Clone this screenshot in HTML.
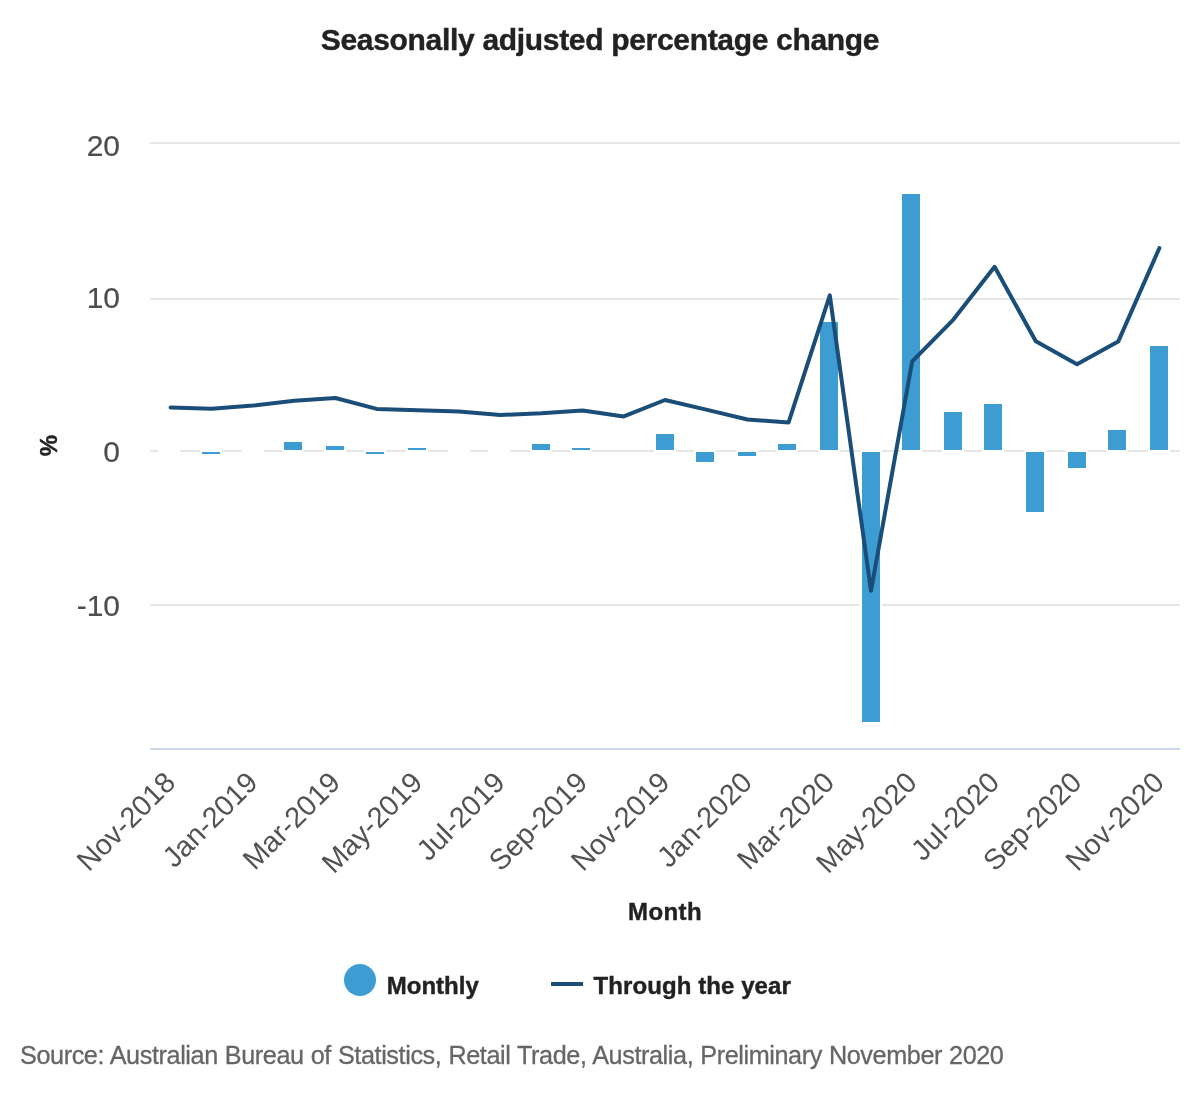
<!DOCTYPE html>
<html lang="en"><head><meta charset="utf-8"><title>Seasonally adjusted percentage change</title>
<style>html,body{margin:0;padding:0;background:#fff}body{width:1200px;height:1100px;overflow:hidden}svg{display:block}text{font-family:"Liberation Sans",Arial,Helvetica,sans-serif}</style></head><body>
<svg width="1200" height="1100" viewBox="0 0 1200 1100">
<rect width="1200" height="1100" fill="#ffffff"/>
<rect x="150" y="142" width="1030" height="2" fill="#e6e6e6"/>
<rect x="150" y="298" width="1030" height="2" fill="#e6e6e6"/>
<rect x="150" y="450" width="1030" height="2" fill="#e6e6e6"/>
<rect x="150" y="604" width="1030" height="2" fill="#e6e6e6"/>
<rect x="158" y="450" width="22" height="2" fill="#fff"/>
<rect x="200" y="450" width="22" height="6" fill="#fff"/>
<rect x="202" y="452" width="18" height="2" fill="#3d9dd3"/>
<rect x="242" y="450" width="22" height="2" fill="#fff"/>
<rect x="282" y="440" width="22" height="12" fill="#fff"/>
<rect x="284" y="442" width="18" height="8" fill="#3d9dd3"/>
<rect x="324" y="444" width="22" height="8" fill="#fff"/>
<rect x="326" y="446" width="18" height="4" fill="#3d9dd3"/>
<rect x="364" y="450" width="22" height="6" fill="#fff"/>
<rect x="366" y="452" width="18" height="2" fill="#3d9dd3"/>
<rect x="406" y="446" width="22" height="6" fill="#fff"/>
<rect x="408" y="448" width="18" height="2" fill="#3d9dd3"/>
<rect x="448" y="450" width="22" height="2" fill="#fff"/>
<rect x="488" y="450" width="22" height="2" fill="#fff"/>
<rect x="530" y="442" width="22" height="10" fill="#fff"/>
<rect x="532" y="444" width="18" height="6" fill="#3d9dd3"/>
<rect x="570" y="446" width="22" height="6" fill="#fff"/>
<rect x="572" y="448" width="18" height="2" fill="#3d9dd3"/>
<rect x="654" y="432" width="22" height="20" fill="#fff"/>
<rect x="656" y="434" width="18" height="16" fill="#3d9dd3"/>
<rect x="694" y="450" width="22" height="14" fill="#fff"/>
<rect x="696" y="452" width="18" height="10" fill="#3d9dd3"/>
<rect x="736" y="450" width="22" height="8" fill="#fff"/>
<rect x="738" y="452" width="18" height="4" fill="#3d9dd3"/>
<rect x="776" y="442" width="22" height="10" fill="#fff"/>
<rect x="778" y="444" width="18" height="6" fill="#3d9dd3"/>
<rect x="818" y="320" width="22" height="132" fill="#fff"/>
<rect x="820" y="322" width="18" height="128" fill="#3d9dd3"/>
<rect x="860" y="450" width="22" height="274" fill="#fff"/>
<rect x="862" y="452" width="18" height="270" fill="#3d9dd3"/>
<rect x="900" y="192" width="22" height="260" fill="#fff"/>
<rect x="902" y="194" width="18" height="256" fill="#3d9dd3"/>
<rect x="942" y="410" width="22" height="42" fill="#fff"/>
<rect x="944" y="412" width="18" height="38" fill="#3d9dd3"/>
<rect x="982" y="402" width="22" height="50" fill="#fff"/>
<rect x="984" y="404" width="18" height="46" fill="#3d9dd3"/>
<rect x="1024" y="450" width="22" height="64" fill="#fff"/>
<rect x="1026" y="452" width="18" height="60" fill="#3d9dd3"/>
<rect x="1066" y="450" width="22" height="20" fill="#fff"/>
<rect x="1068" y="452" width="18" height="16" fill="#3d9dd3"/>
<rect x="1106" y="428" width="22" height="24" fill="#fff"/>
<rect x="1108" y="430" width="18" height="20" fill="#3d9dd3"/>
<rect x="1148" y="344" width="22" height="108" fill="#fff"/>
<rect x="1150" y="346" width="18" height="104" fill="#3d9dd3"/>
<rect x="150" y="748" width="1030" height="2" fill="#ccd6eb"/>
<polyline points="170.6,407.5 211.8,408.8 253.0,405.6 294.2,400.8 335.4,398.0 376.6,408.9 417.8,410.2 459.0,411.6 500.2,415.0 541.4,413.2 582.6,410.4 623.8,416.4 665.0,400.0 706.2,409.6 747.4,419.5 788.6,422.4 829.8,295.4 871.0,590.8 912.2,361.3 953.4,319.6 994.6,266.8 1035.8,341.3 1077.0,364.2 1118.2,341.6 1159.4,248.0" fill="none" stroke="#1a4e79" stroke-width="4" stroke-linejoin="round" stroke-linecap="round"/>
<text x="600" y="49.5" text-anchor="middle" font-size="30" letter-spacing="-0.32" font-weight="bold" fill="#222222" stroke="#222222" stroke-width="0.4">Seasonally adjusted percentage change</text>
<text x="120" y="156" text-anchor="end" font-size="30" fill="#4d4d4d" stroke="#4d4d4d" stroke-width="0.2">20</text>
<text x="120" y="308.2" text-anchor="end" font-size="30" fill="#4d4d4d" stroke="#4d4d4d" stroke-width="0.2">10</text>
<text x="120" y="462" text-anchor="end" font-size="30" fill="#4d4d4d" stroke="#4d4d4d" stroke-width="0.2">0</text>
<text x="120" y="616" text-anchor="end" font-size="30" fill="#4d4d4d" stroke="#4d4d4d" stroke-width="0.2">-10</text>
<text transform="translate(57,445.6) rotate(-90)" text-anchor="middle" font-size="24" font-weight="bold" fill="#222222" stroke="#222222" stroke-width="0.4">%</text>
<text transform="translate(177.0,784.2) rotate(-45)" text-anchor="end" font-size="28.8" fill="#525252">Nov-2018</text>
<text transform="translate(259.4,784.2) rotate(-45)" text-anchor="end" font-size="28.8" fill="#525252">Jan-2019</text>
<text transform="translate(341.8,784.2) rotate(-45)" text-anchor="end" font-size="28.8" fill="#525252">Mar-2019</text>
<text transform="translate(424.2,784.2) rotate(-45)" text-anchor="end" font-size="28.8" fill="#525252">May-2019</text>
<text transform="translate(506.6,784.2) rotate(-45)" text-anchor="end" font-size="28.8" fill="#525252">Jul-2019</text>
<text transform="translate(589.0,784.2) rotate(-45)" text-anchor="end" font-size="28.8" fill="#525252">Sep-2019</text>
<text transform="translate(671.4,784.2) rotate(-45)" text-anchor="end" font-size="28.8" fill="#525252">Nov-2019</text>
<text transform="translate(753.8,784.2) rotate(-45)" text-anchor="end" font-size="28.8" fill="#525252">Jan-2020</text>
<text transform="translate(836.2,784.2) rotate(-45)" text-anchor="end" font-size="28.8" fill="#525252">Mar-2020</text>
<text transform="translate(918.6,784.2) rotate(-45)" text-anchor="end" font-size="28.8" fill="#525252">May-2020</text>
<text transform="translate(1001.0,784.2) rotate(-45)" text-anchor="end" font-size="28.8" fill="#525252">Jul-2020</text>
<text transform="translate(1083.4,784.2) rotate(-45)" text-anchor="end" font-size="28.8" fill="#525252">Sep-2020</text>
<text transform="translate(1165.8,784.2) rotate(-45)" text-anchor="end" font-size="28.8" fill="#525252">Nov-2020</text>
<text x="665" y="919.7" text-anchor="middle" font-size="24" letter-spacing="0.4" font-weight="bold" fill="#222222" stroke="#222222" stroke-width="0.4">Month</text>
<circle cx="360" cy="980" r="16" fill="#3d9dd3"/>
<text x="386.8" y="994.1" font-size="24" font-weight="bold" fill="#222222" stroke="#222222" stroke-width="0.4">Monthly</text>
<rect x="551" y="982" width="32" height="4" fill="#1a4e79"/>
<text x="593.6" y="994.1" font-size="24" letter-spacing="0.08" font-weight="bold" fill="#222222" stroke="#222222" stroke-width="0.4">Through the year</text>
<text x="20" y="1063.8" font-size="25.2" letter-spacing="-0.39" word-spacing="0.4" fill="#666666" stroke="#666666" stroke-width="0.3">Source: Australian Bureau of Statistics, Retail Trade, Australia, Preliminary November 2020</text>
</svg></body></html>
